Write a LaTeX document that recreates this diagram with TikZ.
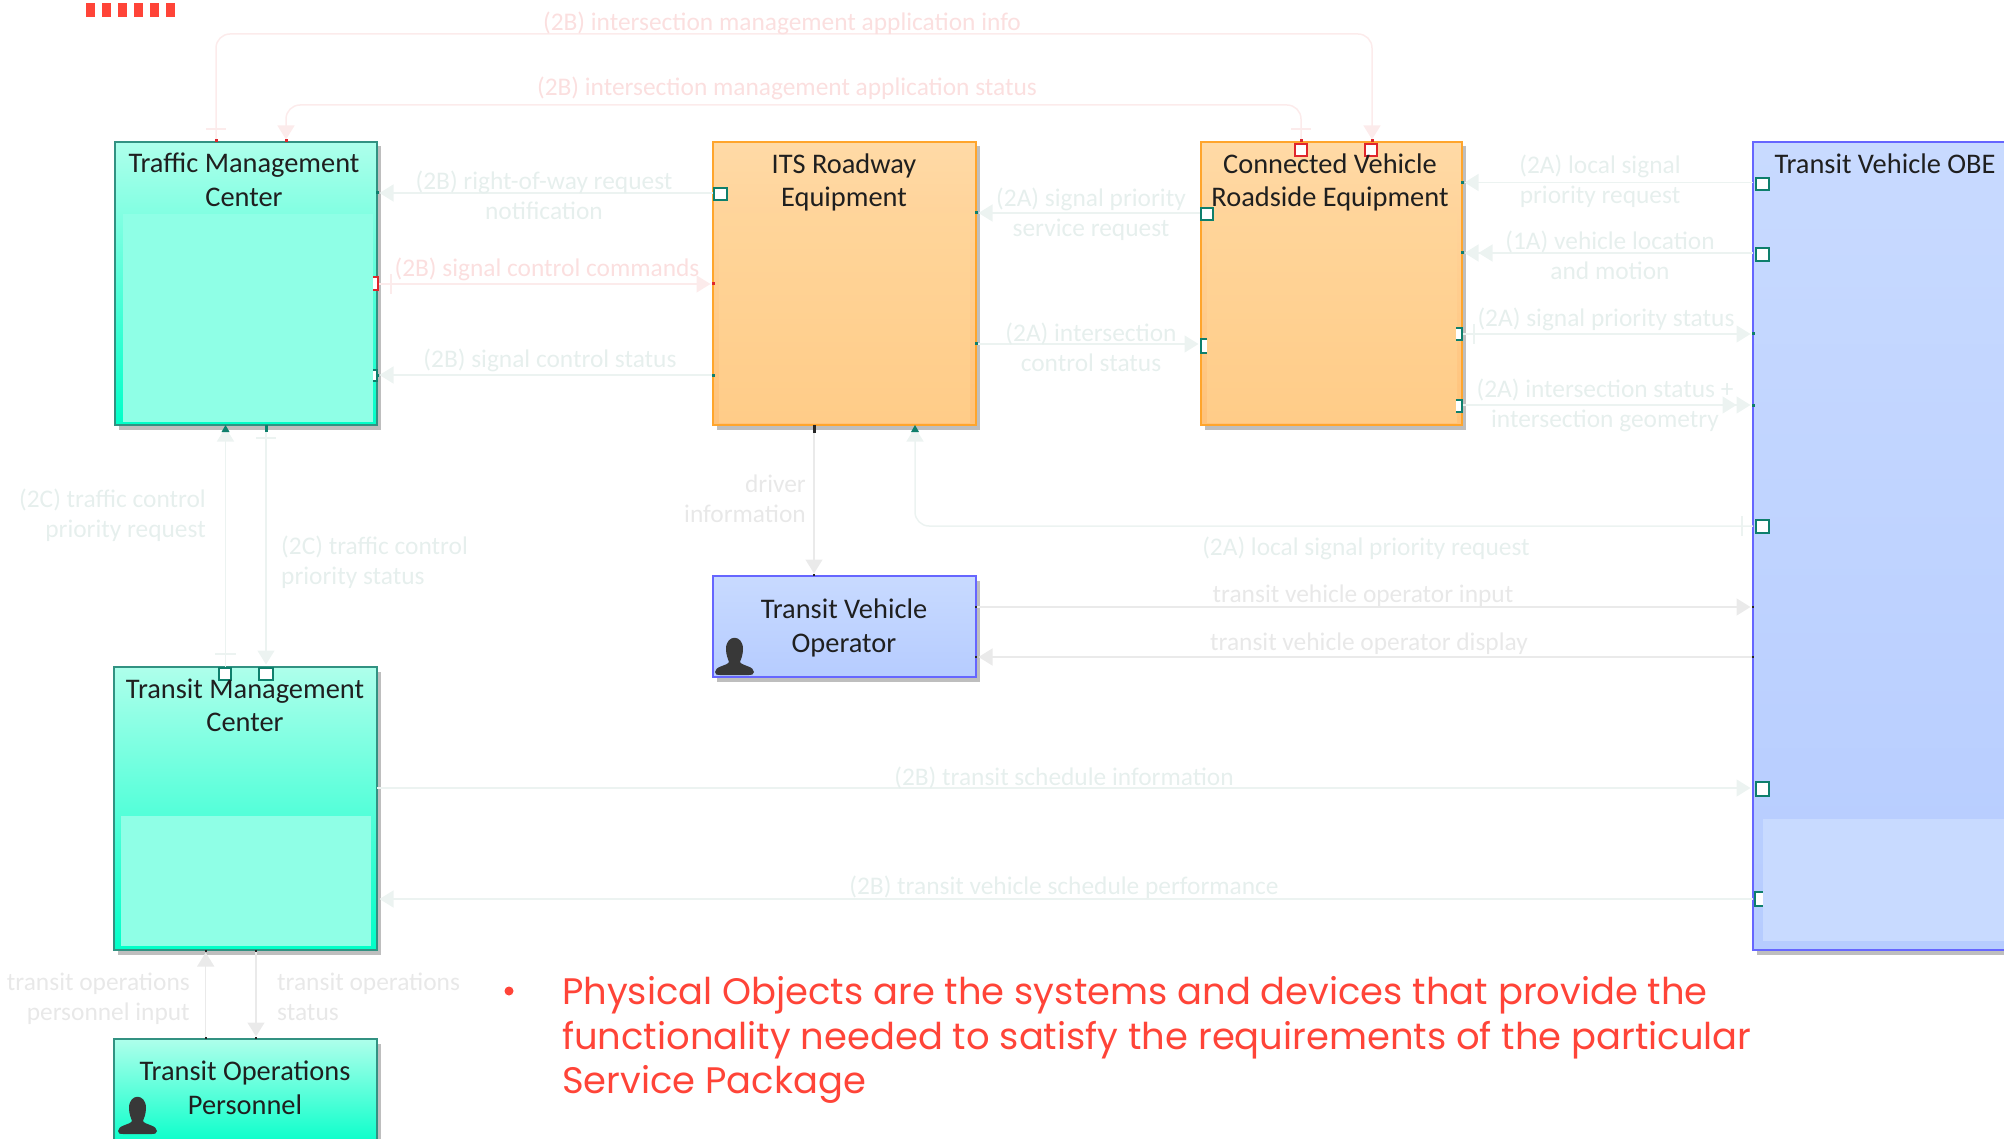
\documentclass[tikz,border=0pt]{standalone}
\usepackage{fontspec}
\setmainfont{Carlito}
\newfontfamily\bulletfont{Poppins}
\usetikzlibrary{arrows.meta,shadows}
\definecolor{pinkln}{HTML}{FCEBEB}
\definecolor{tealln}{HTML}{ECF3F1}
\definecolor{greyln}{HTML}{EAEAEA}
\definecolor{pinktx}{HTML}{FBDFDF}
\definecolor{tealtx}{HTML}{E6EFED}
\definecolor{greytx}{HTML}{E8E8E8}
\definecolor{tealdk}{HTML}{0E7F6C}
\definecolor{shadowgr}{HTML}{BEBEBE}
\definecolor{redport}{HTML}{E0262C}
\definecolor{slidered}{HTML}{FF4438}
\definecolor{green1}{HTML}{AEFFEB}
\definecolor{green2}{HTML}{00FFC8}
\definecolor{greenpanel}{HTML}{8FFFE6}
\definecolor{orange1}{HTML}{FFA52C}
\definecolor{orange2}{HTML}{FFDAA6}
\definecolor{orange3}{HTML}{FFC27A}
\definecolor{orangep1}{HTML}{FFD59A}
\definecolor{orangep2}{HTML}{FFCC88}
\definecolor{blue1}{HTML}{6666FF}
\definecolor{blue2}{HTML}{C8DAFF}
\definecolor{blue3}{HTML}{B6CCFF}
\tikzset{
  x=1pt,y=-1pt,
  basebox/.style={draw,line width=2pt,outer sep=0pt,inner sep=0pt,anchor=north west,
    general shadow={fill=shadowgr,shadow xshift=3.5pt,shadow yshift=-4.5pt}},
  greenbox/.style={basebox,draw=tealdk!85!white,top color=green1,bottom color=green2},
  orangebox/.style={basebox,draw=orange1,top color=orange2,bottom color=orange3},
  bluebox/.style={basebox,draw=blue1,top color=blue2,bottom color=blue3},
  title/.style={font=\fontsize{28.4}{33.5}\selectfont,align=center,inner sep=0pt,text=black!88},
  lab/.style={font=\fontsize{25.4}{30}\selectfont,align=center,inner sep=0pt},
  labp/.style={lab,text=pinktx},
  labt/.style={lab,text=tealtx},
  labg/.style={lab,text=greytx},
  arr/.style={-{Triangle[length=14pt,width=17pt]},shorten >=2.5pt},
  arrtwo/.style={-{Triangle[length=14pt,width=17pt]Triangle[length=14pt,width=17pt]},shorten >=2.5pt},
  pinkc/.style={draw=pinkln,line width=1.5pt,rounded corners=14pt},
  tealc/.style={draw=tealln,line width=1.5pt,rounded corners=14pt},
  greyc/.style={draw=greyln,line width=1.5pt},
  tport/.style={draw=tealdk,line width=1.6pt,fill=white},
  rport/.style={draw=redport,line width=1.6pt,fill=white},
}
\newcommand{\personicon}[2]{%
  \begin{scope}[shift={(#1,#2)}]
    \fill[black!78] (11,12) .. controls (11,-3) and (28,-3) .. (28,12)
      .. controls (28,18) and (26,22) .. (25,25)
      .. controls (27,29) and (39,29) .. (39,35)
      .. controls (39,38) and (36,38) .. (34,38)
      -- (5,38) .. controls (2,38) and (0,38) .. (0,35)
      .. controls (0,29) and (12,29) .. (14,25)
      .. controls (13,22) and (11,18) .. (11,12) -- cycle;
  \end{scope}}
\begin{document}
\begin{tikzpicture}
\useasboundingbox (0,0) rectangle (2004,1139);
\clip (0,0) rectangle (2004,1139);
% slide dashes
\foreach \i in {0,...,5} \fill[slidered] ({86+16*\i},3) rectangle ({94.5+16*\i},17);
% boxes
\node[greenbox,minimum width=262pt,minimum height=283pt] (tmc) at (115,142) {};
\node[orangebox,minimum width=263pt,minimum height=283pt] (its) at (713,142) {};
\node[orangebox,minimum width=261pt,minimum height=283pt] (cvre) at (1201,142) {};
\node[bluebox,minimum width=270pt,minimum height=808pt] (obe) at (1753,142) {};
\node[greenbox,minimum width=263pt,minimum height=283pt] (trmc) at (114,667) {};
\node[bluebox,minimum width=263pt,minimum height=101pt] (tvo) at (713,576) {};
\node[greenbox,minimum width=263pt,minimum height=110pt] (top) at (114,1039) {};
% inner panels
\fill[fill=greenpanel] (123,214) rectangle (373,422);
\fill[fill=greenpanel] (121,816) rectangle (371,946);
\shade[top color=orangep1,bottom color=orangep2] (719,214) rectangle (970,422);
\shade[top color=orangep1,bottom color=orangep2] (1207,214) rectangle (1457,422);
% ports behind panels
\draw[tport] (1755,892) rectangle (1770,906);
\fill[fill=blue2] (1763,819) rectangle (2004,941);
% top connectors
\draw[pinkc] (216,0 |- tmc.north) -- (216,34) -- (1372,34) -- (1372,0 |- cvre.north) [arr];
\draw[pinkc,arr] (1301,0 |- cvre.north) -- (1301,105) -- (286,105) -- (286,0 |- tmc.north);
\draw[pinkln,line width=1.4pt] (206,129) -- (226,129) (1291,129) -- (1311,129);
% horizontal connectors
\draw[tealc,arr] (its.west |- 0,193) -- (tmc.east |- 0,193);
\draw[pinkc,arr] (tmc.east |- 0,284) -- (its.west |- 0,284);
\draw[pinkln,line width=1.4pt] (391,274) -- (391,294);
\draw[tealc,arr] (its.west |- 0,375) -- (tmc.east |- 0,375);
\draw[tealc,arr] (cvre.west |- 0,213) -- (its.east |- 0,213);
\draw[tealc,arr] (its.east |- 0,344) -- (cvre.west |- 0,344);
\draw[tealc,arr] (obe.west |- 0,182.5) -- (cvre.east |- 0,182.5);
\draw[tealc,arrtwo] (obe.west |- 0,253) -- (cvre.east |- 0,253);
\draw[tealc,arr] (cvre.east |- 0,334) -- (obe.west |- 0,334);
\draw[tealln,line width=1.4pt] (1474,324) -- (1474,344);
\draw[tealc,arrtwo] (cvre.east |- 0,405) -- (obe.west |- 0,405);
\draw[tealc,arr] (obe.west |- 0,526) -- (915,526) -- (915,0 |- its.south);
\draw[tealln,line width=1.4pt] (1742,516) -- (1742,536);
\draw[greyc,arr] (814,0 |- its.south) -- (814,0 |- tvo.north);
\draw[greyc,arr] (tvo.east |- 0,607) -- (obe.west |- 0,607);
\draw[greyc,arr] (obe.west |- 0,657) -- (tvo.east |- 0,657);
\draw[tealc,arr] (trmc.east |- 0,788) -- (obe.west |- 0,788);
\draw[tealc,arr] (obe.west |- 0,899) -- (trmc.east |- 0,899);
\draw[tealc,arr] (225.5,0 |- trmc.north) -- (225.5,0 |- tmc.south);
\draw[tealc,arr] (266,0 |- tmc.south) -- (266,0 |- trmc.north);
\draw[tealln,line width=1.4pt] (215,654) -- (236,654) (256,438) -- (276,438);
\draw[greyc,arr] (205.7,0 |- top.north) -- (205.7,0 |- trmc.south);
\draw[greyc,arr] (256,0 |- trmc.south) -- (256,0 |- top.north);
% end ticks
\foreach \a/\b in {377/193,377/375,713/375,976/213,976/344,1462/182.5,1462/253,1753/334,1753/405}
  \fill[tealdk] (\a-1.5,\b-1.5) rectangle (\a+1.5,\b+1.5);
\foreach \a/\b in {216/141,286/141,377/284,713/284,1301/141,1372/141}
  \fill[redport] (\a-1.5,\b-1.5) rectangle (\a+1.5,\b+1.5);
\foreach \a/\b in {976/607,976/657,1753/607,1753/657,206/951,256/951,206/1038,256/1038,814/575}
  \fill[black!85] (\a-1,\b-1) rectangle (\a+1,\b+1);
\fill[tealdk] (221.5,432) -- (229.5,432) -- (225.5,425) -- cycle;
\fill[tealdk] (911,432) -- (919,432) -- (915,425) -- cycle;
\fill[tealdk] (264.5,425) rectangle (267.5,432);
\fill[black!85] (812.5,425) rectangle (815.5,433);
% ports
\draw[tport] (714,188) rectangle (727,200);
\draw[tport] (1201,208) rectangle (1213,220);
\fill[white] (1201,339) rectangle (1207,353);
\draw[tealdk,line width=1.6pt] (1207,339) -- (1201,339) -- (1201,353) -- (1207,353);
\draw[tport] (1756,178) rectangle (1769,190);
\draw[tport] (1756,248) rectangle (1769,261);
\draw[tport] (1756,520) rectangle (1769,533);
\draw[tport] (1756,782) rectangle (1769,796);
\fill[white] (1456,328) rectangle (1462,340);
\draw[tealdk,line width=1.6pt] (1456,328) -- (1462,328) -- (1462,340) -- (1456,340);
\fill[white] (1456,400) rectangle (1462,412);
\draw[tealdk,line width=1.6pt] (1456,400) -- (1462,400) -- (1462,412) -- (1456,412);
\fill[white] (373,370) rectangle (377,381);
\draw[tealdk,line width=1.6pt] (373,370) -- (377,370) -- (377,381) -- (373,381);
\fill[white] (373,277) rectangle (378,290);
\draw[redport,line width=1.6pt] (373,277) -- (378,277) -- (378,290) -- (373,290);
\draw[rport] (1295,144) rectangle (1307,156);
\draw[rport] (1365,144) rectangle (1377,156);
\draw[tport] (219,668) rectangle (231,680);
\draw[tport] (259,668) rectangle (273,680);
% persons
\personicon{715}{637}
\personicon{118}{1096}
% titles
\node[title] (ttmc) at (244,180) {Traffic Management\\Center};
\node[title] (tits) at (844,182.5) {ITS Roadway\\Equipment};
\node[title] (tcvre) at (1330,182.5) {Connected Vehicle\\Roadside Equipment};
\node[title] (tobe) at (1885,164) {Transit Vehicle OBE};
\node[title] (ttrmc) at (245,705.5) {Transit Management\\Center};
\node[title] (ttvo) at (844,628) {Transit Vehicle\\Operator};
\node[title] (ttop) at (245,1088) {Transit Operations\\Personnel};
% connector labels
\node[labp] (l1) at (782,23.5) {(2B) intersection management application info};
\node[labp] (l2) at (787,88.5) {(2B) intersection management application status};
\node[labt] (l3) at (544,195) {(2B) right-of-way request\\notification};
\node[labp] (l4) at (547,269.5) {(2B) signal control commands};
\node[labt] (l5) at (550,360.5) {(2B) signal control status};
\node[labt] (l6) at (1091,214.5) {(2A) signal priority\\service request};
\node[labt] (l7) at (1091,347.5) {(2A) intersection\\control status};
\node[labt] (l8) at (1600,181.5) {(2A) local signal\\priority request};
\node[labt] (l9) at (1610,255) {(1A) vehicle location\\and motion};
\node[labt] (l10) at (1606,319.5) {(2A) signal priority status};
\node[labt] (l11) at (1605,405) {(2A) intersection status +\\intersection geometry};
\node[labt] (l12) at (1366,548) {(2A) local signal priority request};
\node[labg,align=right,anchor=east] (l13) at (806,499) {driver\\information};
\node[labg] (l14) at (1363,595.5) {transit vehicle operator input};
\node[labg] (l15) at (1369,643.5) {transit vehicle operator display};
\node[labt] (l16) at (1064,777.5) {(2B) transit schedule information};
\node[labt] (l17) at (1064,887.5) {(2B) transit vehicle schedule performance};
\node[labt,align=right,anchor=east] (l18) at (206,515) {(2C) traffic control\\priority request};
\node[labt,align=left,anchor=west] (l19) at (281,562) {(2C) traffic control\\priority status};
\node[labg,align=right,anchor=east] (l20) at (190,999) {transit operations\\personnel input};
\node[labg,align=left,anchor=west] (l21) at (277,996.5) {transit operations\\status};
% bullet
\fill[slidered] (509,991) circle (4.5);
\node[font=\bulletfont\fontsize{36.9}{44.5}\selectfont,text=slidered,align=left,anchor=west,inner sep=0pt] (bullet) at (562,1040)
  {Physical Objects are the systems and devices that provide the\\functionality needed to satisfy the requirements of the particular\\Service Package};
\end{tikzpicture}
\end{document}
